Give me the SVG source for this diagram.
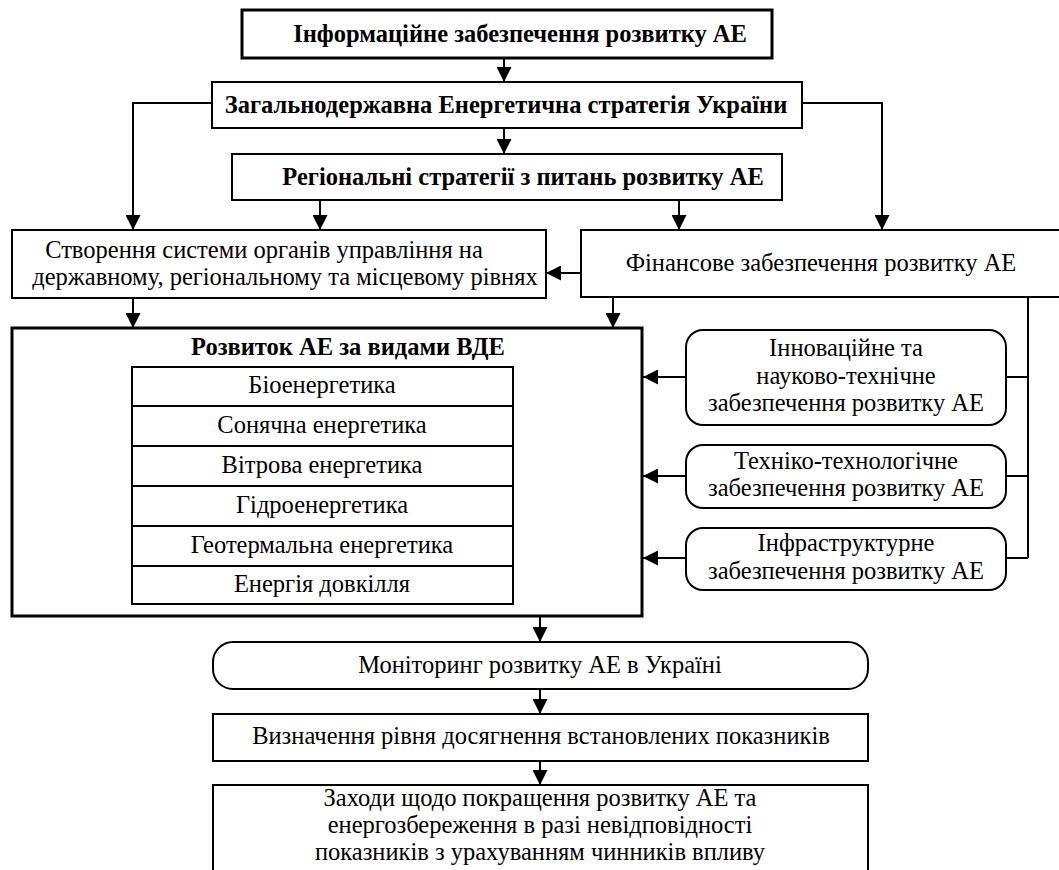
<svg xmlns="http://www.w3.org/2000/svg" width="1059" height="870" viewBox="0 0 1059 870">
<style>
  .box { fill: #fff; stroke: #000; stroke-width: 2; }
  .thick { fill: #fff; stroke: #000; stroke-width: 3; }
  .t { font-family: "Liberation Serif", "Times New Roman", serif; font-size: 24.5px; fill: #000; text-anchor: middle; }
  .b { font-weight: bold; }
  .conn path { fill: none; stroke: #000; stroke-width: 2; }
  .arr { marker-end: url(#ah); }
</style>
<defs>
  <marker id="ah" viewBox="0 0 16 16" refX="16" refY="8" markerWidth="15" markerHeight="15" markerUnits="userSpaceOnUse" orient="auto">
    <path d="M0,0 L16,8 L0,16 z" fill="#000"/>
  </marker>
</defs>
<rect width="1059" height="870" fill="#fff"/>

<g id="n-info">
  <rect class="thick" x="242" y="10" width="530" height="48"/>
  <text class="t b" x="520" y="42">Інформаційне забезпечення розвитку АЕ</text>
</g>
<g id="n-strategy">
  <rect class="box" x="212" y="82" width="590" height="46"/>
  <text class="t b" x="506" y="113">Загальнодержавна Енергетична стратегія України</text>
</g>
<g id="n-regional">
  <rect class="box" x="232" y="154" width="550" height="46"/>
  <text class="t b" x="523" y="185">Регіональні стратегії з питань розвитку АЕ</text>
</g>
<g id="n-system">
  <rect class="box" x="12" y="230" width="534" height="68"/>
  <text class="t" x="264" y="258">Створення системи органів управління на</text>
  <text class="t" x="285" y="285">державному, регіональному та місцевому рівнях</text>
</g>
<g id="n-finance">
  <rect class="box" x="581" y="230" width="490" height="67"/>
  <text class="t" x="821" y="271">Фінансове забезпечення розвитку АЕ</text>
</g>
<g id="n-types">
  <rect class="thick" x="12" y="328" width="630" height="288"/>
  <text class="t b" x="348" y="355">Розвиток АЕ за видами ВДЕ</text>
  <rect class="box" x="132" y="367" width="381" height="237"/>
  <path d="M132,406 H513 M132,446 H513 M132,486 H513 M132,526 H513 M132,566 H513" stroke="#000" stroke-width="2" fill="none"/>
  <text class="t" x="322" y="393">Біоенергетика</text>
  <text class="t" x="322" y="433">Сонячна енергетика</text>
  <text class="t" x="322" y="473">Вітрова енергетика</text>
  <text class="t" x="322" y="513">Гідроенергетика</text>
  <text class="t" x="322" y="553">Геотермальна енергетика</text>
  <text class="t" x="322" y="592">Енергія довкілля</text>
</g>
<g id="n-innov">
  <rect class="box" x="686" y="330" width="320" height="95" rx="17"/>
  <text class="t" x="846" y="356">Інноваційне та</text>
  <text class="t" x="846" y="384">науково-технічне</text>
  <text class="t" x="846" y="411">забезпечення розвитку АЕ</text>
</g>
<g id="n-tech">
  <rect class="box" x="686" y="445" width="320" height="63" rx="17"/>
  <text class="t" x="846" y="469">Техніко-технологічне</text>
  <text class="t" x="846" y="496">забезпечення розвитку АЕ</text>
</g>
<g id="n-infra">
  <rect class="box" x="686" y="528" width="320" height="62" rx="17"/>
  <text class="t" x="846" y="551">Інфраструктурне</text>
  <text class="t" x="846" y="579">забезпечення розвитку АЕ</text>
</g>
<g id="n-monitor">
  <rect class="box" x="213" y="642" width="655" height="47" rx="20"/>
  <text class="t" x="540" y="673">Моніторинг розвитку АЕ в Україні</text>
</g>
<g id="n-level">
  <rect class="box" x="213" y="714" width="655" height="47"/>
  <text class="t" x="541" y="744">Визначення рівня досягнення встановлених показників</text>
</g>
<g id="n-measures">
  <rect class="box" x="213" y="785" width="655" height="100"/>
  <text class="t" x="540" y="806">Заходи щодо покращення розвитку АЕ та</text>
  <text class="t" x="540" y="833">енергозбереження в разі невідповідності</text>
  <text class="t" x="540" y="860">показників з урахуванням чинників впливу</text>
</g>

<g id="connectors" class="conn">
  <path class="arr" d="M504,58 V82"/>
  <path class="arr" d="M504,128 V154"/>
  <path class="arr" d="M212,103 H133 V230"/>
  <path class="arr" d="M802,103 H882 V230"/>
  <path class="arr" d="M320,200 V230"/>
  <path class="arr" d="M679,200 V230"/>
  <path class="arr" d="M581,273 H546"/>
  <path class="arr" d="M133,298 V328"/>
  <path class="arr" d="M613,297 V328"/>
  <path d="M1028,297 V558 M1028,377 H1006 M1028,476 H1006 M1028,558 H1006"/>
  <path class="arr" d="M686,377 H643"/>
  <path class="arr" d="M686,476 H643"/>
  <path class="arr" d="M686,558 H643"/>
  <path class="arr" d="M540,616 V642"/>
  <path class="arr" d="M540,689 V714"/>
  <path class="arr" d="M540,761 V785"/>
</g>
</svg>
